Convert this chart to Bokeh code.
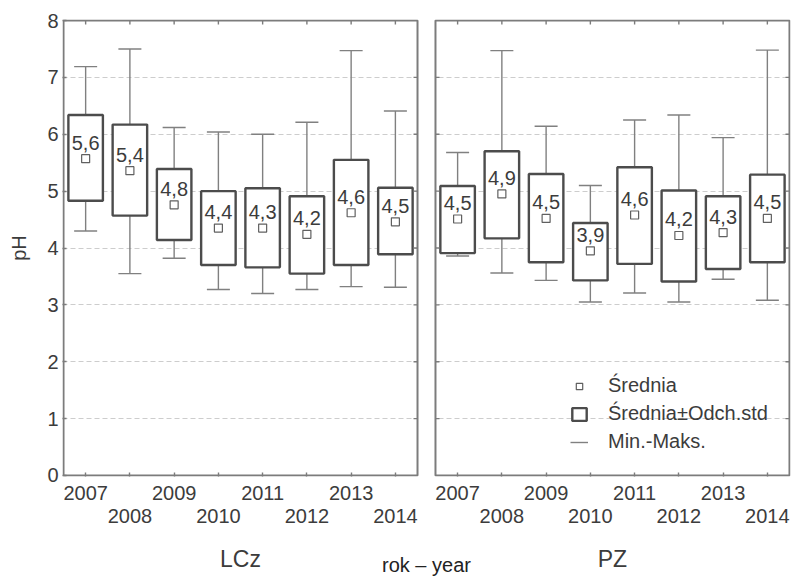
from bokeh.plotting import figure
from bokeh.models import (Range1d, FixedTicker, LinearAxis, Legend,
                          LegendItem, ColumnDataSource)
from bokeh.core.properties import value
from bokeh.embed import file_html
from bokeh.resources import INLINE

# ---------------- data ----------------
years = ["2007", "2008", "2009", "2010", "2011", "2012", "2013", "2014"]
sites = ["LCz", "PZ"]

lcz_mean = [5.57, 5.36, 4.76, 4.35, 4.35, 4.24, 4.62, 4.46]
lcz_sd_low = [4.83, 4.57, 4.14, 3.70, 3.66, 3.55, 3.70, 3.89]
lcz_sd_high = [6.34, 6.17, 5.39, 5.00, 5.05, 4.91, 5.55, 5.06]
lcz_min = [4.30, 3.55, 3.82, 3.27, 3.20, 3.27, 3.32, 3.31]
lcz_max = [7.19, 7.50, 6.12, 6.04, 6.00, 6.21, 7.47, 6.41]
lcz_labels = ["5,6", "5,4", "4,8", "4,4", "4,3", "4,2", "4,6", "4,5"]

pz_mean = [4.51, 4.95, 4.52, 3.95, 4.58, 4.22, 4.27, 4.52]
pz_sd_low = [3.91, 4.17, 3.75, 3.43, 3.72, 3.41, 3.63, 3.75]
pz_sd_high = [5.09, 5.70, 5.30, 4.44, 5.42, 5.01, 4.91, 5.29]
pz_min = [3.86, 3.56, 3.43, 3.05, 3.21, 3.05, 3.45, 3.08]
pz_max = [5.68, 7.47, 6.14, 5.10, 6.25, 6.34, 5.94, 7.48]
pz_labels = ["4,5", "4,9", "4,5", "3,9", "4,6", "4,2", "4,3", "4,5"]

y_ticks = [0, 1, 2, 3, 4, 5, 6, 7, 8]
grid_ticks = [1, 2, 3, 4, 5, 6, 7]

legend_labels = ["Średnia", "Średnia±Odch.std", "Min.-Maks."]
x_title = "rok – year"
y_title = "pH"

# ---------------- layout constants ----------------
W, H = 791, 578
BL, BR, BT, BB = 62, 1, 19, 102
FW, FH = W - BL - BR, H - BT - BB
n = len(years)
GAP = 0.40625
PADX, PADY = 0.023, 0.018
YMAX = 8
x0, x1 = 0.5 - PADX, 0.5 + 2 * n + GAP + PADX
y0, y1 = -PADY, YMAX + PADY
px_x = FW / (x1 - x0)
px_y = FH / (y1 - y0)

FONTNAME = "Liberation Sans"
FONT = value(FONTNAME)
TXT = "#3c3c3c"
FRAME = "#7c7c7c"
BOXC = "#4c4c4c"
WHISK = "#808080"

off = n + GAP
xs_l = [i + 1 for i in range(n)]
xs_r = [i + 1 + off for i in range(n)]
xs = xs_l + xs_r
mean = lcz_mean + pz_mean
lo = lcz_sd_low + pz_sd_low
hi = lcz_sd_high + pz_sd_high
mn = lcz_min + pz_min
mx = lcz_max + pz_max
labels = lcz_labels + pz_labels

BOXW = 0.39
CAPW = 0.26
src = ColumnDataSource(dict(
    x=xs, mean=mean, lo=lo, hi=hi, mn=mn, mx=mx, lab=labels,
    bl=[x - BOXW for x in xs], br=[x + BOXW for x in xs],
    cl=[x - CAPW for x in xs], cr=[x + CAPW for x in xs],
))

p = figure(width=W, height=H, x_range=Range1d(x0, x1), y_range=Range1d(y0, y1),
           output_backend="svg", toolbar_location=None,
           min_border_left=BL, min_border_right=BR,
           min_border_top=BT, min_border_bottom=BB)
p.outline_line_color = None
p.background_fill_color = "white"
p.xgrid.visible = False
p.ygrid.ticker = FixedTicker(ticks=grid_ticks)
p.ygrid.grid_line_color = "#cdcdcd"
p.ygrid.grid_line_dash = "5 3"
p.ygrid.grid_line_width = 1

# white gap between the two panels
p.quad(left=[n + 0.5], right=[n + 0.5 + GAP], bottom=[y0], top=[y1],
       fill_color="white", line_color=None)

# whiskers
p.segment(x0="x", y0="hi", x1="x", y1="mx", source=src, line_color=WHISK, line_width=1.4)
p.segment(x0="x", y0="lo", x1="x", y1="mn", source=src, line_color=WHISK, line_width=1.4)
cap_r = p.segment(x0="cl", y0="mx", x1="cr", y1="mx", source=src, line_color=WHISK, line_width=1.4)
p.segment(x0="cl", y0="mn", x1="cr", y1="mn", source=src, line_color=WHISK, line_width=1.4)

# boxes (mean +- sd)
box_r = p.quad(left="bl", right="br", bottom="lo", top="hi", source=src,
               fill_color="white", line_color=BOXC, line_width=2.4)
# means
mean_r = p.scatter(x="x", y="mean", source=src, marker="square", size=8,
                   fill_color="white", line_color="#606060", line_width=1.2)
# mean labels
p.text(x="x", y="mean", text="lab", source=src, text_font=FONT,
       text_font_size="20px", text_align="center", text_baseline="alphabetic",
       y_offset=-16, text_color=TXT)

# panel frames
p.quad(left=[0.5, n + 0.5 + GAP], right=[n + 0.5, 2 * n + 0.5 + GAP],
       bottom=[0, 0], top=[YMAX, YMAX], fill_color=None,
       line_color=FRAME, line_width=2)

# inner ticks (top edge, right edges, inner edges)
TLX = 4 / px_x
TLY = 4 / px_y
p.segment(x0=xs, y0=[YMAX] * len(xs), x1=xs, y1=[YMAX - TLY] * len(xs),
          line_color=FRAME, line_width=1.4)
edges = [(n + 0.5, -1), (n + 0.5 + GAP, 1), (2 * n + 0.5 + GAP, -1)]
for ex, d in edges:
    p.segment(x0=[ex] * len(grid_ticks), y0=grid_ticks,
              x1=[ex + d * TLX] * len(grid_ticks), y1=grid_ticks,
              line_color=FRAME, line_width=1.4)

# y axis
ya = p.yaxis[0]
ya.ticker = FixedTicker(ticks=y_ticks)
ya.axis_line_color = None
ya.major_tick_in = 4
ya.major_tick_out = 0
ya.major_tick_line_color = FRAME
ya.major_tick_line_width = 1.4
ya.minor_tick_line_color = None
ya.major_label_text_font = FONTNAME
ya.major_label_text_font_size = "20px"
ya.major_label_text_color = TXT
ya.major_label_standoff = 4
ya.axis_label = y_title
ya.axis_label_text_font = FONTNAME
ya.axis_label_text_font_size = "20px"
ya.axis_label_text_font_style = "normal"
ya.axis_label_text_color = TXT
ya.axis_label_standoff = 14

# x axis: odd years in first row, even years in second row
odd_pos = [x for k, x in enumerate(xs) if k % 2 == 0]
even_pos = [x for k, x in enumerate(xs) if k % 2 == 1]
all_years = years + years
odd_lab = {x: all_years[k] for k, x in enumerate(xs) if k % 2 == 0}
even_lab = {x: all_years[k] for k, x in enumerate(xs) if k % 2 == 1}

xa = p.xaxis[0]
xa.ticker = FixedTicker(ticks=odd_pos, minor_ticks=even_pos)
xa.major_label_overrides = odd_lab
xa.axis_line_color = None
xa.major_tick_in = 4
xa.major_tick_out = 0
xa.minor_tick_in = 4
xa.minor_tick_out = 0
xa.major_tick_line_color = FRAME
xa.minor_tick_line_color = FRAME
xa.major_tick_line_width = 1.4
xa.minor_tick_line_width = 1.4
xa.major_label_text_font = FONTNAME
xa.major_label_text_font_size = "20px"
xa.major_label_text_color = TXT
xa.major_label_standoff = 9


def plain_axis(ticks, overrides, size, standoff):
    ax = LinearAxis(ticker=FixedTicker(ticks=ticks), major_label_overrides=overrides)
    ax.axis_line_color = None
    ax.major_tick_line_color = None
    ax.minor_tick_line_color = None
    ax.major_tick_in = 0
    ax.major_tick_out = 0
    ax.major_label_text_font = FONTNAME
    ax.major_label_text_font_size = size
    ax.major_label_text_color = TXT
    ax.major_label_standoff = standoff
    return ax


xb = plain_axis(even_pos, even_lab, "20px", 6)
p.add_layout(xb, "below")

# panel names (LCz, PZ) and the common x title
site_pos = [k * off + (n + 1) / 2 for k in range(len(sites))]
xc = plain_axis(site_pos, {x: s for x, s in zip(site_pos, sites)}, "23px", 20)
xc.axis_label = x_title
xc.axis_label_text_font = FONTNAME
xc.axis_label_text_font_size = "20px"
xc.axis_label_text_font_style = "normal"
xc.axis_label_text_color = "#222222"
xc.axis_label_standoff = -21
p.add_layout(xc, "below")

# legend
legend = Legend(items=[LegendItem(label=legend_labels[0], renderers=[mean_r]),
                       LegendItem(label=legend_labels[1], renderers=[box_r]),
                       LegendItem(label=legend_labels[2], renderers=[cap_r])],
                location=(508, 23))
legend.label_text_font = FONTNAME
legend.label_text_font_size = "20px"
legend.label_text_color = TXT
legend.glyph_width = 18
legend.glyph_height = 16
legend.label_standoff = 20
legend.spacing = 5
legend.padding = 0
legend.margin = 0
legend.border_line_color = None
legend.background_fill_alpha = 0
p.add_layout(legend)

open("out.html", "w").write(file_html(p, INLINE))
